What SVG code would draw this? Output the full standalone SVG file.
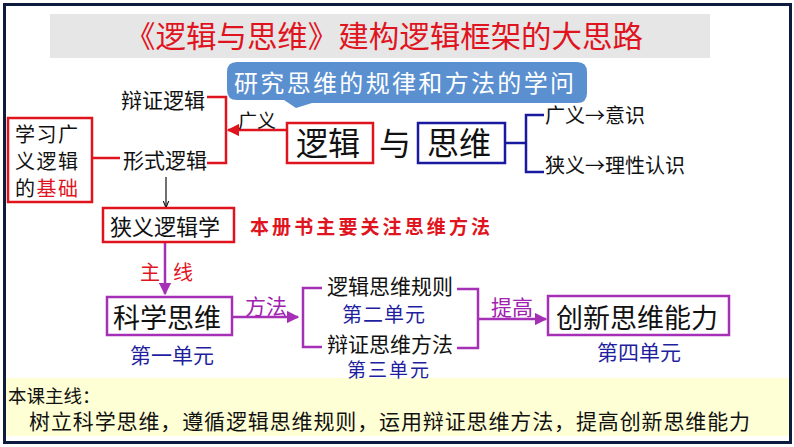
<svg xmlns="http://www.w3.org/2000/svg" width="794" height="447" viewBox="0 0 794 447">
<style>
text{font-family:"Noto Sans CJK SC","Liberation Sans",sans-serif;}
.k{fill:#111;}
.r{fill:#e0141e;}
.b{fill:#1f1fa0;}
.p{fill:#a020b0;}
.w{fill:#fff;}
.box{fill:#fff;stroke-width:2.5;}
.rs{stroke:#e0141e;}
.bs{stroke:#1a1aa0;}
.ps{stroke:#a530b5;}
.ln{fill:none;stroke-width:2.5;}
</style>
<defs>
<marker id="ar" viewBox="0 0 10 10" refX="9" refY="5" markerWidth="5" markerHeight="5" orient="auto"><path d="M0,0 L10,5 L0,10 z" fill="#e0141e"/></marker>
<marker id="ap" viewBox="0 0 10 10" refX="9" refY="5" markerWidth="5" markerHeight="5" orient="auto"><path d="M0,0 L10,5 L0,10 z" fill="#a530b5"/></marker>
<marker id="ak" viewBox="0 0 10 10" refX="9" refY="5" markerWidth="6" markerHeight="6" orient="auto"><path d="M0,1 L10,5 L0,9" fill="none" stroke="#111" stroke-width="1.5"/></marker>
</defs>
<rect x="0" y="0" width="794" height="447" fill="#fff"/>
<rect x="4" y="378" width="786" height="58" fill="#ffffd5"/>
<rect x="4.5" y="4.5" width="786" height="438" fill="none" stroke="#0d1b3e" stroke-width="3"/>

<g id="title">
<rect x="50" y="14" width="660" height="44" fill="#e6e6e6"/>
<text x="125" y="47" font-size="30" class="r" textLength="518" lengthAdjust="spacingAndGlyphs">《逻辑与思维》建构逻辑框架的大思路</text>
</g>

<g id="callout">
<path d="M237,62 H577 Q587,62 587,72 V93 Q587,103 577,103 H312 L296,108 L284,100 H237 Q227,100 227,90 V72 Q227,62 237,62 Z" fill="#5a8fd0"/>
<text x="234" y="92" font-size="24" class="w" textLength="340">研究思维的规律和方法的学问</text>
</g>

<g id="connectors">
<polyline class="ln rs" points="207,97 226,97 226,163 207,163"/>
<line class="ln rs" x1="287" y1="130" x2="228" y2="130" marker-end="url(#ar)"/>
<line class="ln rs" x1="92" y1="158" x2="120" y2="158"/>
<line x1="166" y1="177" x2="166" y2="207" stroke="#111" stroke-width="1.2" marker-end="url(#ak)"/>
<line class="ln bs" x1="505" y1="143" x2="526" y2="143"/>
<polyline class="ln bs" points="544,115 526,115 526,172 544,172"/>
<line class="ln ps" x1="165" y1="243" x2="165" y2="294" marker-end="url(#ap)"/>
<line class="ln ps" x1="232" y1="317" x2="298" y2="317" marker-end="url(#ap)"/>
<polyline class="ln ps" points="322,288 303,288 303,347 322,347"/>
<polyline class="ln ps" points="457,289 478,289 478,348 457,348"/>
<line class="ln ps" x1="478" y1="319" x2="546" y2="319" marker-end="url(#ap)"/>
</g>

<g id="labels">
<text x="238" y="128" font-size="19" class="k">广义</text>
<text x="140" y="280" font-size="20" class="r">主</text>
<text x="173" y="280" font-size="20" class="r">线</text>
<text x="245" y="314" font-size="21" class="p">方法</text>
<text x="491" y="315" font-size="21" class="p">提高</text>
<text x="250" y="234" font-size="19" class="r" font-weight="bold" textLength="240">本册书主要关注思维方法</text>
</g>

<g id="n-bianzheng"><text x="121" y="108" font-size="21" class="k">辩证逻辑</text></g>
<g id="n-xingshi"><text x="123" y="168" font-size="21" class="k">形式逻辑</text></g>

<g id="n-jichu">
<rect class="box rs" x="8" y="118" width="84" height="84"/>
<text x="15" y="142" font-size="20" class="k" textLength="63">学习广</text>
<text x="15" y="169" font-size="20" class="k" textLength="63">义逻辑</text>
<text x="15" y="196" font-size="20" textLength="63"><tspan class="k">的</tspan><tspan class="r">基础</tspan></text>
</g>

<g id="n-luoji">
<rect class="box rs" x="287" y="123" width="86" height="40"/>
<text x="296" y="155" font-size="32" class="k">逻辑</text>
</g>
<g id="n-yu"><text x="379" y="155" font-size="32" class="k">与</text></g>
<g id="n-siwei">
<rect class="box bs" x="418" y="123" width="87" height="40"/>
<text x="427" y="155" font-size="32" class="k">思维</text>
</g>

<g id="n-guangyi"><text x="545" y="123" font-size="20" class="k">广义→意识</text></g>
<g id="n-xiayi"><text x="545" y="173" font-size="20" class="k">狭义→理性认识</text></g>

<g id="n-xiayiluoji">
<rect class="box rs" x="103" y="208" width="131" height="34"/>
<text x="110" y="235" font-size="22" class="k">狭义逻辑学</text>
</g>

<g id="n-kexue">
<rect class="box ps" x="107" y="297" width="125" height="38"/>
<text x="113" y="328" font-size="27" class="k">科学思维</text>
<text x="130" y="363" font-size="21" class="b">第一单元</text>
</g>

<g id="n-guize">
<text x="327" y="294" font-size="21" class="k">逻辑思维规则</text>
<text x="342" y="322" font-size="20" class="b" textLength="83">第二单元</text>
</g>
<g id="n-fangfa">
<text x="327" y="352" font-size="21" class="k">辩证思维方法</text>
<text x="347" y="377" font-size="19" class="b" textLength="82">第三单元</text>
</g>

<g id="n-chuangxin">
<rect class="box ps" x="548" y="296" width="181" height="39"/>
<text x="556" y="328" font-size="27" class="k">创新思维能力</text>
<text x="597" y="360" font-size="21" class="b">第四单元</text>
</g>

<g id="summary">
<text x="8" y="403" font-size="18.5" class="k">本课主线：</text>
<text x="29" y="429" font-size="21" class="k" textLength="721">树立科学思维，遵循逻辑思维规则，运用辩证思维方法，提高创新思维能力</text>
</g>
</svg>
